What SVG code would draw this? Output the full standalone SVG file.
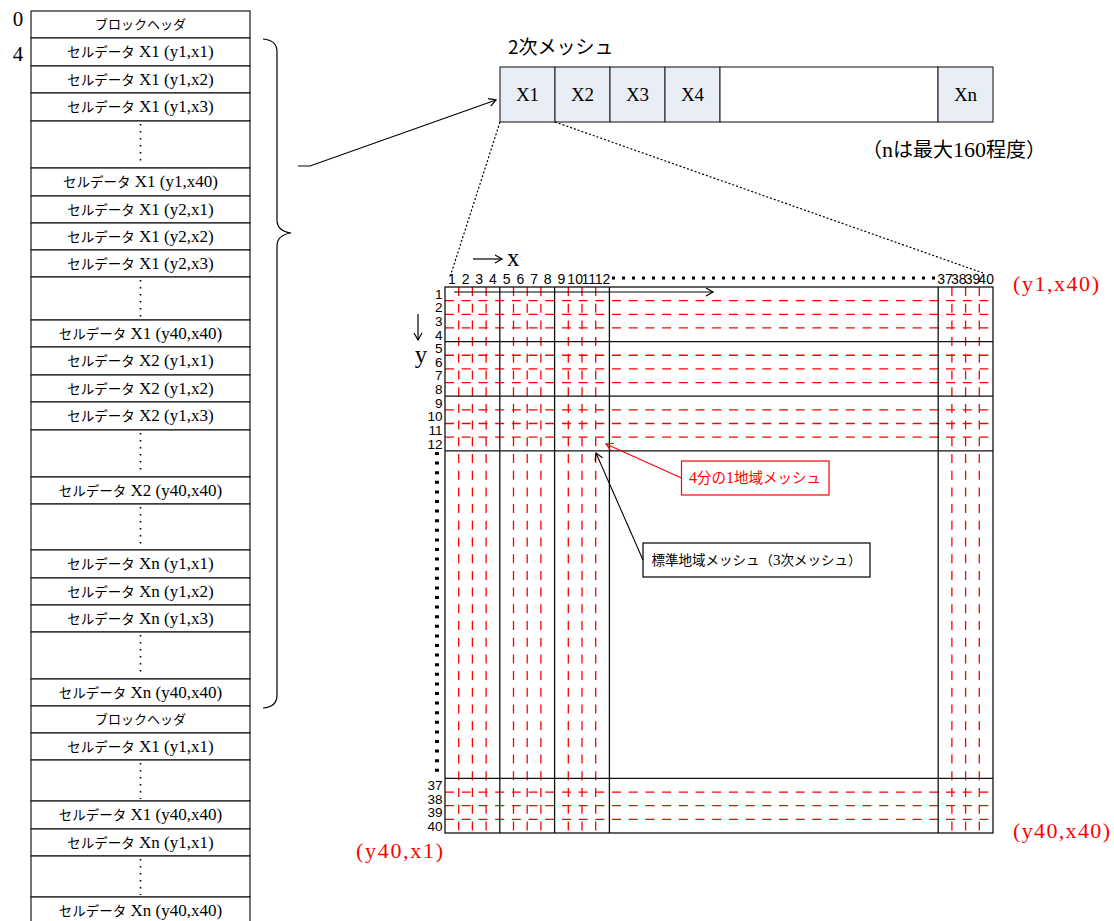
<svg xmlns="http://www.w3.org/2000/svg" width="1114" height="921" viewBox="0 0 1114 921">
<style>
.cell{fill:#fff;stroke:#1a1a1a;stroke-width:1.2}
.ct{text-anchor:middle;fill:#000}
.jp{font-family:"Noto Sans CJK JP","Noto Sans",sans-serif;font-size:13.5px}
.sr{font-family:"Liberation Serif","Noto Sans CJK JP",serif;font-size:17px}
.dots{stroke:#000;stroke-width:1.6;stroke-dasharray:1.6 5.4;fill:none}
.mcell{fill:#e8edf6;stroke:#333;stroke-width:1.2}
.rd{stroke:#ff0000;stroke-width:1.3;stroke-dasharray:9 7.7;fill:none}
.bk{stroke:#111;stroke-width:1.3;fill:none}
.num{font-family:"Liberation Sans",Arial,sans-serif;font-size:14px;fill:#000}
.red{fill:#ff0000}
.conn{stroke:#000;stroke-width:1.2;fill:none}
.dotted{stroke:#000;stroke-width:1.2;stroke-dasharray:2 2;fill:none}
</style>
<defs>
<marker id="ab" markerWidth="10" markerHeight="10" refX="8" refY="5" orient="auto" markerUnits="userSpaceOnUse">
<path d="M1,1 L8,5 L1,9" fill="none" stroke="#000" stroke-width="1.2"/>
</marker>
<marker id="ar" markerWidth="10" markerHeight="10" refX="8" refY="5" orient="auto" markerUnits="userSpaceOnUse">
<path d="M1,1 L8,5 L1,9" fill="none" stroke="#ff0000" stroke-width="1.2"/>
</marker>
</defs>
<rect width="1114" height="921" fill="#fff"/>

<g id="offsets">
<text x="18" y="26" class="ct sr" style="font-size:21px">0</text>
<text x="18" y="61" class="ct sr" style="font-size:21px">4</text>
</g>

<g id="datacolumn">
<rect class="cell" x="31" y="11" width="219" height="27"/>
<text x="140.5" y="29" class="ct jp" style="font-size:13px">ブロックヘッダ</text>
<rect class="cell" x="31" y="38" width="219" height="28"/>
<text x="140.5" y="57" class="ct"><tspan class="jp">セルデータ</tspan><tspan class="sr"> X1 (y1,x1)</tspan></text>
<rect class="cell" x="31" y="66" width="219" height="27"/>
<text x="140.5" y="84.5" class="ct"><tspan class="jp">セルデータ</tspan><tspan class="sr"> X1 (y1,x2)</tspan></text>
<rect class="cell" x="31" y="93" width="219" height="28"/>
<text x="140.5" y="112" class="ct"><tspan class="jp">セルデータ</tspan><tspan class="sr"> X1 (y1,x3)</tspan></text>
<rect class="cell" x="31" y="121" width="219" height="47"/>
<line class="dots" x1="140.5" y1="124" x2="140.5" y2="166"/>
<rect class="cell" x="31" y="168" width="219" height="28"/>
<text x="140.5" y="187" class="ct"><tspan class="jp">セルデータ</tspan><tspan class="sr"> X1 (y1,x40)</tspan></text>
<rect class="cell" x="31" y="196" width="219" height="27"/>
<text x="140.5" y="214.5" class="ct"><tspan class="jp">セルデータ</tspan><tspan class="sr"> X1 (y2,x1)</tspan></text>
<rect class="cell" x="31" y="223" width="219" height="27"/>
<text x="140.5" y="241.5" class="ct"><tspan class="jp">セルデータ</tspan><tspan class="sr"> X1 (y2,x2)</tspan></text>
<rect class="cell" x="31" y="250" width="219" height="27"/>
<text x="140.5" y="268.5" class="ct"><tspan class="jp">セルデータ</tspan><tspan class="sr"> X1 (y2,x3)</tspan></text>
<rect class="cell" x="31" y="277" width="219" height="43"/>
<line class="dots" x1="140.5" y1="280" x2="140.5" y2="318"/>
<rect class="cell" x="31" y="320" width="219" height="27"/>
<text x="140.5" y="338.5" class="ct"><tspan class="jp">セルデータ</tspan><tspan class="sr"> X1 (y40,x40)</tspan></text>
<rect class="cell" x="31" y="347" width="219" height="28"/>
<text x="140.5" y="366" class="ct"><tspan class="jp">セルデータ</tspan><tspan class="sr"> X2 (y1,x1)</tspan></text>
<rect class="cell" x="31" y="375" width="219" height="27"/>
<text x="140.5" y="393.5" class="ct"><tspan class="jp">セルデータ</tspan><tspan class="sr"> X2 (y1,x2)</tspan></text>
<rect class="cell" x="31" y="402" width="219" height="28"/>
<text x="140.5" y="421" class="ct"><tspan class="jp">セルデータ</tspan><tspan class="sr"> X2 (y1,x3)</tspan></text>
<rect class="cell" x="31" y="430" width="219" height="47"/>
<line class="dots" x1="140.5" y1="433" x2="140.5" y2="475"/>
<rect class="cell" x="31" y="477" width="219" height="27"/>
<text x="140.5" y="495.5" class="ct"><tspan class="jp">セルデータ</tspan><tspan class="sr"> X2 (y40,x40)</tspan></text>
<rect class="cell" x="31" y="504" width="219" height="46"/>
<line class="dots" x1="140.5" y1="507" x2="140.5" y2="548"/>
<rect class="cell" x="31" y="550" width="219" height="28"/>
<text x="140.5" y="569" class="ct"><tspan class="jp">セルデータ</tspan><tspan class="sr"> Xn (y1,x1)</tspan></text>
<rect class="cell" x="31" y="578" width="219" height="27"/>
<text x="140.5" y="596.5" class="ct"><tspan class="jp">セルデータ</tspan><tspan class="sr"> Xn (y1,x2)</tspan></text>
<rect class="cell" x="31" y="605" width="219" height="27"/>
<text x="140.5" y="623.5" class="ct"><tspan class="jp">セルデータ</tspan><tspan class="sr"> Xn (y1,x3)</tspan></text>
<rect class="cell" x="31" y="632" width="219" height="47"/>
<line class="dots" x1="140.5" y1="635" x2="140.5" y2="677"/>
<rect class="cell" x="31" y="679" width="219" height="27"/>
<text x="140.5" y="697.5" class="ct"><tspan class="jp">セルデータ</tspan><tspan class="sr"> Xn (y40,x40)</tspan></text>
<rect class="cell" x="31" y="706" width="219" height="27"/>
<text x="140.5" y="724" class="ct jp" style="font-size:13px">ブロックヘッダ</text>
<rect class="cell" x="31" y="733" width="219" height="27"/>
<text x="140.5" y="751.5" class="ct"><tspan class="jp">セルデータ</tspan><tspan class="sr"> X1 (y1,x1)</tspan></text>
<rect class="cell" x="31" y="760" width="219" height="41"/>
<line class="dots" x1="140.5" y1="763" x2="140.5" y2="799"/>
<rect class="cell" x="31" y="801" width="219" height="28"/>
<text x="140.5" y="820" class="ct"><tspan class="jp">セルデータ</tspan><tspan class="sr"> X1 (y40,x40)</tspan></text>
<rect class="cell" x="31" y="829" width="219" height="27"/>
<text x="140.5" y="847.5" class="ct"><tspan class="jp">セルデータ</tspan><tspan class="sr"> Xn (y1,x1)</tspan></text>
<rect class="cell" x="31" y="856" width="219" height="41"/>
<line class="dots" x1="140.5" y1="859" x2="140.5" y2="895"/>
<rect class="cell" x="31" y="897" width="219" height="30"/>
<text x="140.5" y="916" class="ct"><tspan class="jp">セルデータ</tspan><tspan class="sr"> Xn (y40,x40)</tspan></text>
</g>

<g id="brace">
<path class="conn" d="M263,39 Q277,40 277,52 L277,220 Q277,231 291,233 Q277,235 277,246 L277,695 Q277,707 263,708"/>
</g>

<g id="mesh2">
<text x="508" y="54" class="jp" style="font-size:19px">2次メッシュ</text>
<rect class="mcell" x="500" y="67" width="55" height="55"/>
<rect class="mcell" x="555" y="67" width="55" height="55"/>
<rect class="mcell" x="610" y="67" width="55" height="55"/>
<rect class="mcell" x="665" y="67" width="55" height="55"/>
<rect x="720" y="67" width="218" height="55" fill="#fff" stroke="#333" stroke-width="1.2"/>
<rect class="mcell" x="938" y="67" width="55" height="55"/>
<text x="527.5" y="101" class="ct sr" style="font-size:19px">X1</text>
<text x="582.5" y="101" class="ct sr" style="font-size:19px">X2</text>
<text x="637.5" y="101" class="ct sr" style="font-size:19px">X3</text>
<text x="692.5" y="101" class="ct sr" style="font-size:19px">X4</text>
<text x="965.5" y="101" class="ct sr" style="font-size:19px">Xn</text>
<text x="862" y="157"><tspan class="jp" style="font-size:20px">（</tspan><tspan class="sr" style="font-size:22px">n</tspan><tspan class="jp" style="font-size:20px">は最大</tspan><tspan class="sr" style="font-size:22px">160</tspan><tspan class="jp" style="font-size:20px">程度）</tspan></text>
</g>

<g id="mesh3grid">
<g id="reddash">
<line class="rd" x1="458.7" y1="287" x2="458.7" y2="833"/>
<line class="rd" x1="472.4" y1="287" x2="472.4" y2="833"/>
<line class="rd" x1="486.1" y1="287" x2="486.1" y2="833"/>
<line class="rd" x1="513.5" y1="287" x2="513.5" y2="833"/>
<line class="rd" x1="527.2" y1="287" x2="527.2" y2="833"/>
<line class="rd" x1="540.9" y1="287" x2="540.9" y2="833"/>
<line class="rd" x1="568.3" y1="287" x2="568.3" y2="833"/>
<line class="rd" x1="582" y1="287" x2="582" y2="833"/>
<line class="rd" x1="595.7" y1="287" x2="595.7" y2="833"/>
<line class="rd" x1="951.9" y1="287" x2="951.9" y2="833"/>
<line class="rd" x1="965.6" y1="287" x2="965.6" y2="833"/>
<line class="rd" x1="979.3" y1="287" x2="979.3" y2="833"/>
<line class="rd" x1="445" y1="300.65" x2="993" y2="300.65"/>
<line class="rd" x1="445" y1="314.3" x2="993" y2="314.3"/>
<line class="rd" x1="445" y1="327.95" x2="993" y2="327.95"/>
<line class="rd" x1="445" y1="355.25" x2="993" y2="355.25"/>
<line class="rd" x1="445" y1="368.9" x2="993" y2="368.9"/>
<line class="rd" x1="445" y1="382.55" x2="993" y2="382.55"/>
<line class="rd" x1="445" y1="409.85" x2="993" y2="409.85"/>
<line class="rd" x1="445" y1="423.5" x2="993" y2="423.5"/>
<line class="rd" x1="445" y1="437.15" x2="993" y2="437.15"/>
<line class="rd" x1="445" y1="792.05" x2="993" y2="792.05"/>
<line class="rd" x1="445" y1="805.7" x2="993" y2="805.7"/>
<line class="rd" x1="445" y1="819.35" x2="993" y2="819.35"/>
</g>
<g id="blackgrid">
<rect class="bk" x="445" y="287" width="548" height="546"/>
<line class="bk" x1="499.8" y1="287" x2="499.8" y2="833"/>
<line class="bk" x1="554.6" y1="287" x2="554.6" y2="833"/>
<line class="bk" x1="609.4" y1="287" x2="609.4" y2="833"/>
<line class="bk" x1="938.2" y1="287" x2="938.2" y2="833"/>
<line class="bk" x1="445" y1="341.6" x2="993" y2="341.6"/>
<line class="bk" x1="445" y1="396.2" x2="993" y2="396.2"/>
<line class="bk" x1="445" y1="450.8" x2="993" y2="450.8"/>
<line class="bk" x1="445" y1="778.4" x2="993" y2="778.4"/>
</g>
<g id="colnums" class="num" text-anchor="middle">
<text x="451.85" y="284">1</text>
<text x="465.55" y="284">2</text>
<text x="479.25" y="284">3</text>
<text x="492.95" y="284">4</text>
<text x="506.65" y="284">5</text>
<text x="520.35" y="284">6</text>
<text x="534.05" y="284">7</text>
<text x="547.75" y="284">8</text>
<text x="561.45" y="284">9</text>
<text x="575.15" y="284">10</text>
<text x="588.85" y="284">11</text>
<text x="602.55" y="284">12</text>
<text x="945.05" y="284">37</text>
<text x="958.75" y="284">38</text>
<text x="972.45" y="284">39</text>
<text x="986.15" y="284">40</text>
</g>
<g id="rownums" class="num" text-anchor="end" style="font-size:13.5px">
<text x="442.5" y="298.5">1</text>
<text x="442.5" y="312.2">2</text>
<text x="442.5" y="325.8">3</text>
<text x="442.5" y="339.5">4</text>
<text x="442.5" y="353.1">5</text>
<text x="442.5" y="366.8">6</text>
<text x="442.5" y="380.4">7</text>
<text x="442.5" y="394.1">8</text>
<text x="442.5" y="407.7">9</text>
<text x="442.5" y="421.4">10</text>
<text x="442.5" y="435">11</text>
<text x="442.5" y="448.7">12</text>
<text x="442.5" y="789.9">37</text>
<text x="442.5" y="803.6">38</text>
<text x="442.5" y="817.2">39</text>
<text x="442.5" y="830.9">40</text>
</g>
<line x1="612" y1="278" x2="936" y2="278" stroke="#000" stroke-width="3" stroke-dasharray="3 7"/>
<line x1="437" y1="452" x2="437" y2="776" stroke="#000" stroke-width="4" stroke-dasharray="3 6.6"/>
<line class="conn" x1="473" y1="259" x2="502" y2="259" marker-end="url(#ab)"/>
<text x="507" y="266" class="sr" style="font-size:25px">x</text>
<line class="conn" x1="418" y1="314" x2="418" y2="340" marker-end="url(#ab)"/>
<text x="421" y="363" class="ct sr" style="font-size:25px">y</text>
<line class="conn" x1="454" y1="292" x2="713" y2="292" marker-end="url(#ab)"/>
</g>

<g id="corners">
<text x="1013" y="291" class="sr red" style="font-size:22px" textLength="86" lengthAdjust="spacing">(y1,x40)</text>
<text x="1013" y="838" class="sr red" style="font-size:22px" textLength="97" lengthAdjust="spacing">(y40,x40)</text>
<text x="356" y="858" class="sr red" style="font-size:22px" textLength="87" lengthAdjust="spacing">(y40,x1)</text>
</g>

<g id="label-quarter">
<rect x="681.5" y="461" width="147.5" height="34" fill="#fff" stroke="#ff0000" stroke-width="1.2"/>
<text x="755" y="483" class="ct red"><tspan class="sr" style="font-size:16px">4</tspan><tspan class="jp" style="font-size:14.5px">分の</tspan><tspan class="sr" style="font-size:16px">1</tspan><tspan class="jp" style="font-size:14.5px">地域メッシュ</tspan></text>
</g>

<g id="label-standard">
<rect x="643" y="543" width="227" height="34" fill="#fff" stroke="#000" stroke-width="1.2"/>
<text x="756.5" y="565" class="ct"><tspan class="jp" style="font-size:13.5px">標準地域メッシュ（</tspan><tspan class="sr" style="font-size:15px">3</tspan><tspan class="jp" style="font-size:13.5px">次メッシュ）</tspan></text>
</g>

<g id="connectors">
<polyline class="conn" points="298,166 310,166 496,100" marker-end="url(#ab)"/>
<line class="dotted" x1="500" y1="122" x2="450" y2="277"/>
<line class="dotted" x1="555" y1="122" x2="983" y2="273"/>
<line x1="681.5" y1="478" x2="606" y2="444" stroke="#ff0000" stroke-width="1.1" marker-end="url(#ar)"/>
<line x1="643" y1="560" x2="596" y2="453" stroke="#000" stroke-width="1.1" marker-end="url(#ab)"/>
</g>
</svg>
